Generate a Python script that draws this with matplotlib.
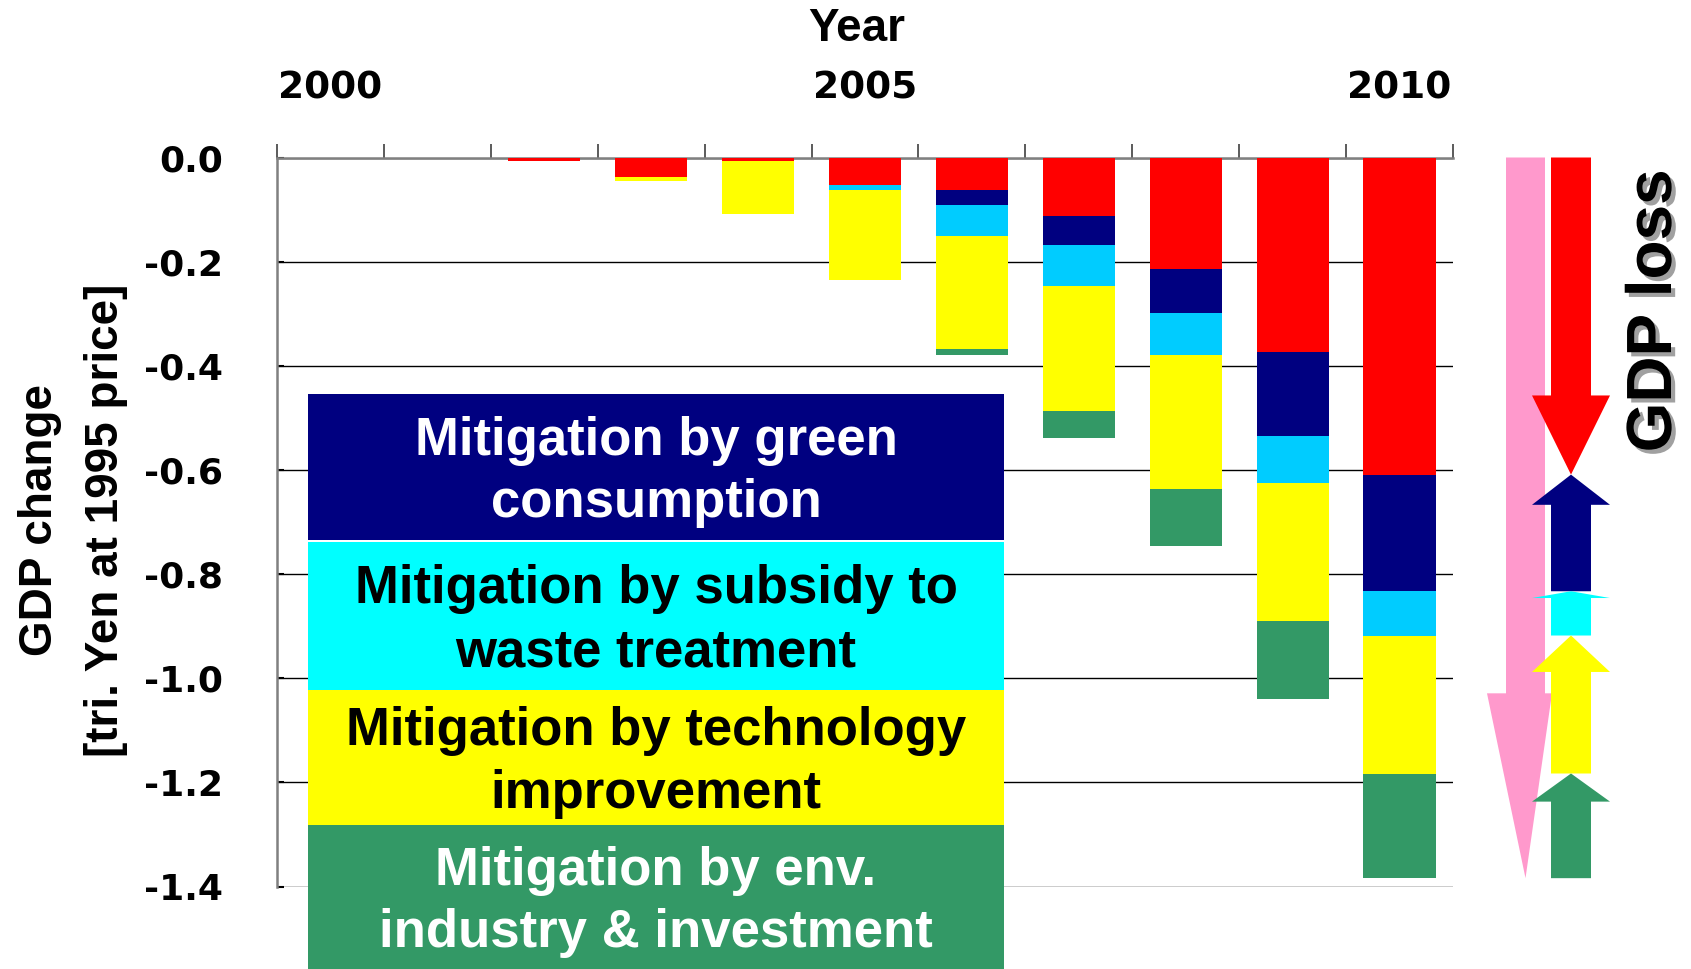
import matplotlib
matplotlib.use("Agg")
import matplotlib.pyplot as plt
import matplotlib.patheffects as pe
import matplotlib.transforms as mtransforms
from matplotlib.patches import Polygon, Rectangle
import numpy as np

# ---- data (trillion yen at 1995 prices, magnitudes of each stacked segment) ----
years = list(range(2000, 2011))
year_labels = ["2000", "2005", "2010"]
gdp_loss = [0, 0, 0.006, 0.038, 0.006, 0.052, 0.062, 0.113, 0.214, 0.373, 0.609]
green_consumption = [0, 0, 0, 0, 0, 0, 0.030, 0.055, 0.084, 0.161, 0.224]
waste_subsidy = [0, 0, 0, 0, 0, 0.011, 0.058, 0.078, 0.081, 0.092, 0.085]
technology = [0, 0, 0, 0.008, 0.103, 0.173, 0.217, 0.241, 0.258, 0.265, 0.265]
env_industry = [0, 0, 0, 0, 0, 0, 0.013, 0.052, 0.110, 0.148, 0.201]
yticks = [0.0, -0.2, -0.4, -0.6, -0.8, -1.0, -1.2, -1.4]

legend_lines = [
    ("Mitigation by green\nconsumption", "#000080", "white"),
    ("Mitigation by subsidy to\nwaste treatment", "#00FFFF", "black"),
    ("Mitigation by technology\nimprovement", "#FFFF00", "black"),
    ("Mitigation by env.\nindustry & investment", "#339966", "white"),
]

RED, NAVY, BAR_CYAN, ARROW_CYAN, YELLOW, GREEN, PINK = (
    "#FF0000", "#000080", "#00CCFF", "#00FFFF", "#FFFF00", "#339966", "#FF99CC")

W, H = 1691, 969
fig = plt.figure(figsize=(W / 100, H / 100), dpi=100)

def fx(px):
    return px / W

def fy(py):
    return 1 - py / H

ax = fig.add_axes([fx(277), fy(886.5), fx(1453 - 277), (886.5 - 157.5) / H])

x = np.arange(len(years))
series = [(gdp_loss, RED), (green_consumption, NAVY), (waste_subsidy, BAR_CYAN),
          (technology, YELLOW), (env_industry, GREEN)]
cum = np.zeros(len(years))
for vals, col in series:
    v = np.array(vals)
    ax.bar(x, -v, bottom=-cum, width=0.676, color=col, edgecolor="none", zorder=3)
    cum += v

ax.set_xlim(-0.5, len(years) - 0.5)
ax.set_ylim(-1.4, 0)

# horizontal grid
ax.set_yticks(yticks)
ax.set_yticklabels([f"{t:.1f}" for t in yticks], fontfamily="DejaVu Sans",
                   fontweight="bold", fontsize=26)
ax.yaxis.grid(True, color="black", linewidth=1.0, zorder=0)
ax.set_axisbelow(True)
ax.tick_params(axis="y", direction="in", length=5, width=1.5, color="black", pad=39)

# top axis: boundary ticks and year labels
ax.xaxis.tick_top()
ax.set_xticks(np.arange(-0.5, len(years), 1.0))
ax.set_xticklabels([])
ax.tick_params(axis="x", which="major", direction="out", length=10, width=1.2,
               color="#404040", top=True, bottom=False)
ax.set_xticks([years.index(int(y)) for y in year_labels], minor=True)
ax.set_xticklabels(year_labels, minor=True, fontfamily="DejaVu Sans",
                   fontweight="bold", fontsize=27)
ax.tick_params(axis="x", which="minor", length=0, pad=37, top=True, bottom=False,
               labeltop=True, labelbottom=False)

for side in ("right", "bottom"):
    ax.spines[side].set_visible(False)
for side in ("top", "left"):
    ax.spines[side].set_color("#808080")
    ax.spines[side].set_linewidth(1.8)
    ax.spines[side].set_zorder(2.5)

fig.text(fx(857), fy(29), "Year", ha="center", va="center",
         fontfamily="Liberation Sans", fontweight="bold", fontsize=33)
fig.text(fx(40), fy(520), "GDP change", rotation=90, ha="center", va="center",
         fontfamily="Liberation Sans", fontweight="bold", fontsize=33)
fig.text(fx(106), fy(520), "[tri. Yen at 1995 price]", rotation=90, ha="center",
         va="center", fontfamily="Liberation Sans", fontweight="bold", fontsize=33)

# colour key boxes
boxes = [(394, 540), (542, 690), (690, 825), (825, 969)]
for (label, bg, fg), (top, bot) in zip(legend_lines, boxes):
    fig.patches.append(Rectangle((fx(308), fy(bot)), fx(1004 - 308), (bot - top) / H,
                                 transform=fig.transFigure, facecolor=bg,
                                 edgecolor="none", zorder=5))
    l1, l2 = label.split("\n")
    mid = (top + bot) / 2
    for txt, cy in ((l1, mid - 31.5), (l2, mid + 31.5)):
        fig.text(fx(656), fy(cy + 19), txt, ha="center", va="baseline", color=fg,
                 fontfamily="Liberation Sans", fontweight="bold", fontsize=38,
                 zorder=6)

# composition arrows for the final year
tr = mtransforms.blended_transform_factory(fig.transFigure, ax.transData)

def down_arrow(xl, xr, hl, hr, top, base, tip, color):
    xc = (xl + xr) / 2
    pts = [(xl, top), (xr, top), (xr, base), (hr, base), (xc, tip), (hl, base), (xl, base)]
    ax.add_patch(Polygon([(fx(a), b) for a, b in pts], closed=True, transform=tr,
                         facecolor=color, edgecolor="none", clip_on=False, zorder=6))

def up_arrow(xl, xr, hl, hr, tip, base, bottom, color):
    xc = (xl + xr) / 2
    pts = [(xl, bottom), (xr, bottom), (xr, base), (hr, base), (xc, tip), (hl, base), (xl, base)]
    ax.add_patch(Polygon([(fx(a), b) for a, b in pts], closed=True, transform=tr,
                         facecolor=color, edgecolor="none", clip_on=False, zorder=7))

last = -1
total = (gdp_loss[last] + green_consumption[last] + waste_subsidy[last]
         + technology[last] + env_industry[last])
down_arrow(1506, 1545, 1487, 1552, 0, -(total - 0.355), -total, PINK)

sx0, sx1, hx0, hx1 = 1551, 1591, 1532, 1610
level = -gdp_loss[last]
down_arrow(sx0, sx1, hx0, hx1, 0, level + 0.152, level, RED)
for vals, col, head in ((green_consumption, NAVY, 0.058), (waste_subsidy, ARROW_CYAN, 0.013),
                        (technology, YELLOW, 0.07), (env_industry, GREEN, 0.054)):
    lower = level - vals[last]
    up_arrow(sx0, sx1, hx0, hx1, level, level - head, lower, col)
    level = lower

fig.text(fx(1654), fy(311), "GDP loss", rotation=90, ha="center", va="center",
         fontfamily="Liberation Sans", fontweight="bold", fontsize=46,
         path_effects=[pe.SimplePatchShadow(offset=(3, -3), shadow_rgbFace="#a0a0a0",
                                            alpha=1.0), pe.Normal()])

fig.savefig("out.png", dpi=100)
